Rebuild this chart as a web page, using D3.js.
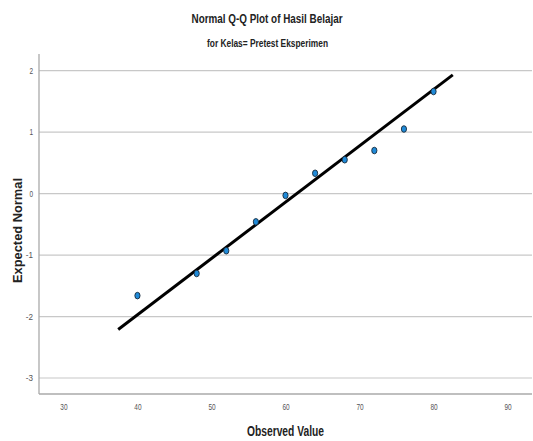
<!DOCTYPE html>
<html><head><meta charset="utf-8">
<script src="https://cdn.jsdelivr.net/npm/d3@7"></script>
<style>
body{margin:0;background:#fff;}
text{font-family:"Liberation Sans Narrow","Arial Narrow","Liberation Sans",Arial,sans-serif;}
</style></head>
<body><svg id="c" width="533" height="441"></svg>
<script>
const observed = [40, 48, 52, 56, 60, 64, 68, 72, 76, 80];
const expected = [-1.66, -1.30, -0.93, -0.46, -0.03, 0.33, 0.55, 0.70, 1.05, 1.66];
const lineX = [37.4, 82.6];
const lineY = [-2.21, 1.93];
const xTicks = [30, 40, 50, 60, 70, 80, 90];
const yTicks = [-3, -2, -1, 0, 1, 2];
const title = "Normal Q-Q Plot of Hasil Belajar";
const subtitle = "for Kelas= Pretest Eksperimen";
const xLabel = "Observed Value";
const yLabel = "Expected Normal";

const svg = d3.select("#c");
const L = 39, R = 532, T = 54, B = 394;
const x = d3.scaleLinear().domain([26.7, 93.3]).range([L, R]);
const y = d3.scaleLinear().domain([-3.26, 2.27]).range([B, T]);

// gridlines
svg.append("g").selectAll("line").data(yTicks).join("line")
  .attr("x1", L).attr("x2", R)
  .attr("y1", d => y(d)).attr("y2", d => y(d))
  .attr("stroke", "#c8c8c8").attr("stroke-width", 1.2);

// axes
const fmt = d => String(d);
const xAxis = d3.axisBottom(x).tickValues(xTicks).tickFormat(fmt).tickSize(0).tickPadding(10);
const yAxis = d3.axisLeft(y).tickValues(yTicks).tickFormat(fmt).tickSize(0).tickPadding(6);
const gx = svg.append("g").attr("transform", `translate(0,${B})`).call(xAxis);
const gy = svg.append("g").attr("transform", `translate(${L},0)`).call(yAxis);
[gx, gy].forEach(g => {
  g.select(".domain").remove();
  g.selectAll("text").attr("fill", "#555").style("font-size", "9px")
    .attr("textLength", d => String(d).length * 3.6)
    .attr("lengthAdjust", "spacingAndGlyphs");
});
// axis frame lines
svg.append("line").attr("x1", L).attr("x2", L).attr("y1", T).attr("y2", B)
  .attr("stroke", "#aaa").attr("stroke-width", 1.3);
svg.append("line").attr("x1", L).attr("x2", R).attr("y1", B).attr("y2", B)
  .attr("stroke", "#aaa").attr("stroke-width", 1.3);

// reference line
svg.append("line")
  .attr("x1", x(lineX[0])).attr("y1", y(lineY[0]))
  .attr("x2", x(lineX[1])).attr("y2", y(lineY[1]))
  .attr("stroke", "#000").attr("stroke-width", 3);

// points
svg.append("g").selectAll("ellipse").data(observed).join("ellipse")
  .attr("cx", (d) => x(d)).attr("cy", (d, i) => y(expected[i]))
  .attr("rx", 2.6).attr("ry", 3.3)
  .attr("fill", "#1f8ad8").attr("stroke", "#1a2a3a").attr("stroke-width", 0.9);

// titles
function label(t, xPos, yPos, size, len, rot, fam) {
  const el = svg.append("text").attr("text-anchor", "middle")
    .style("font-size", size + "px").style("font-weight", "bold").attr("fill", "#222")
    .attr("textLength", len).attr("lengthAdjust", "spacingAndGlyphs").text(t);
  if (fam) el.style("font-family", fam);
  if (rot) el.attr("transform", `translate(${xPos},${yPos}) rotate(-90)`);
  else el.attr("x", xPos).attr("y", yPos);
}
label(title, 267, 23, 13, 151);
label(subtitle, 267.5, 47, 10, 121);
label(xLabel, 285.5, 436, 14, 77);
label(yLabel, 22, 230.5, 13, 105, true, '"Liberation Sans",Arial,sans-serif');
</script></body></html>
